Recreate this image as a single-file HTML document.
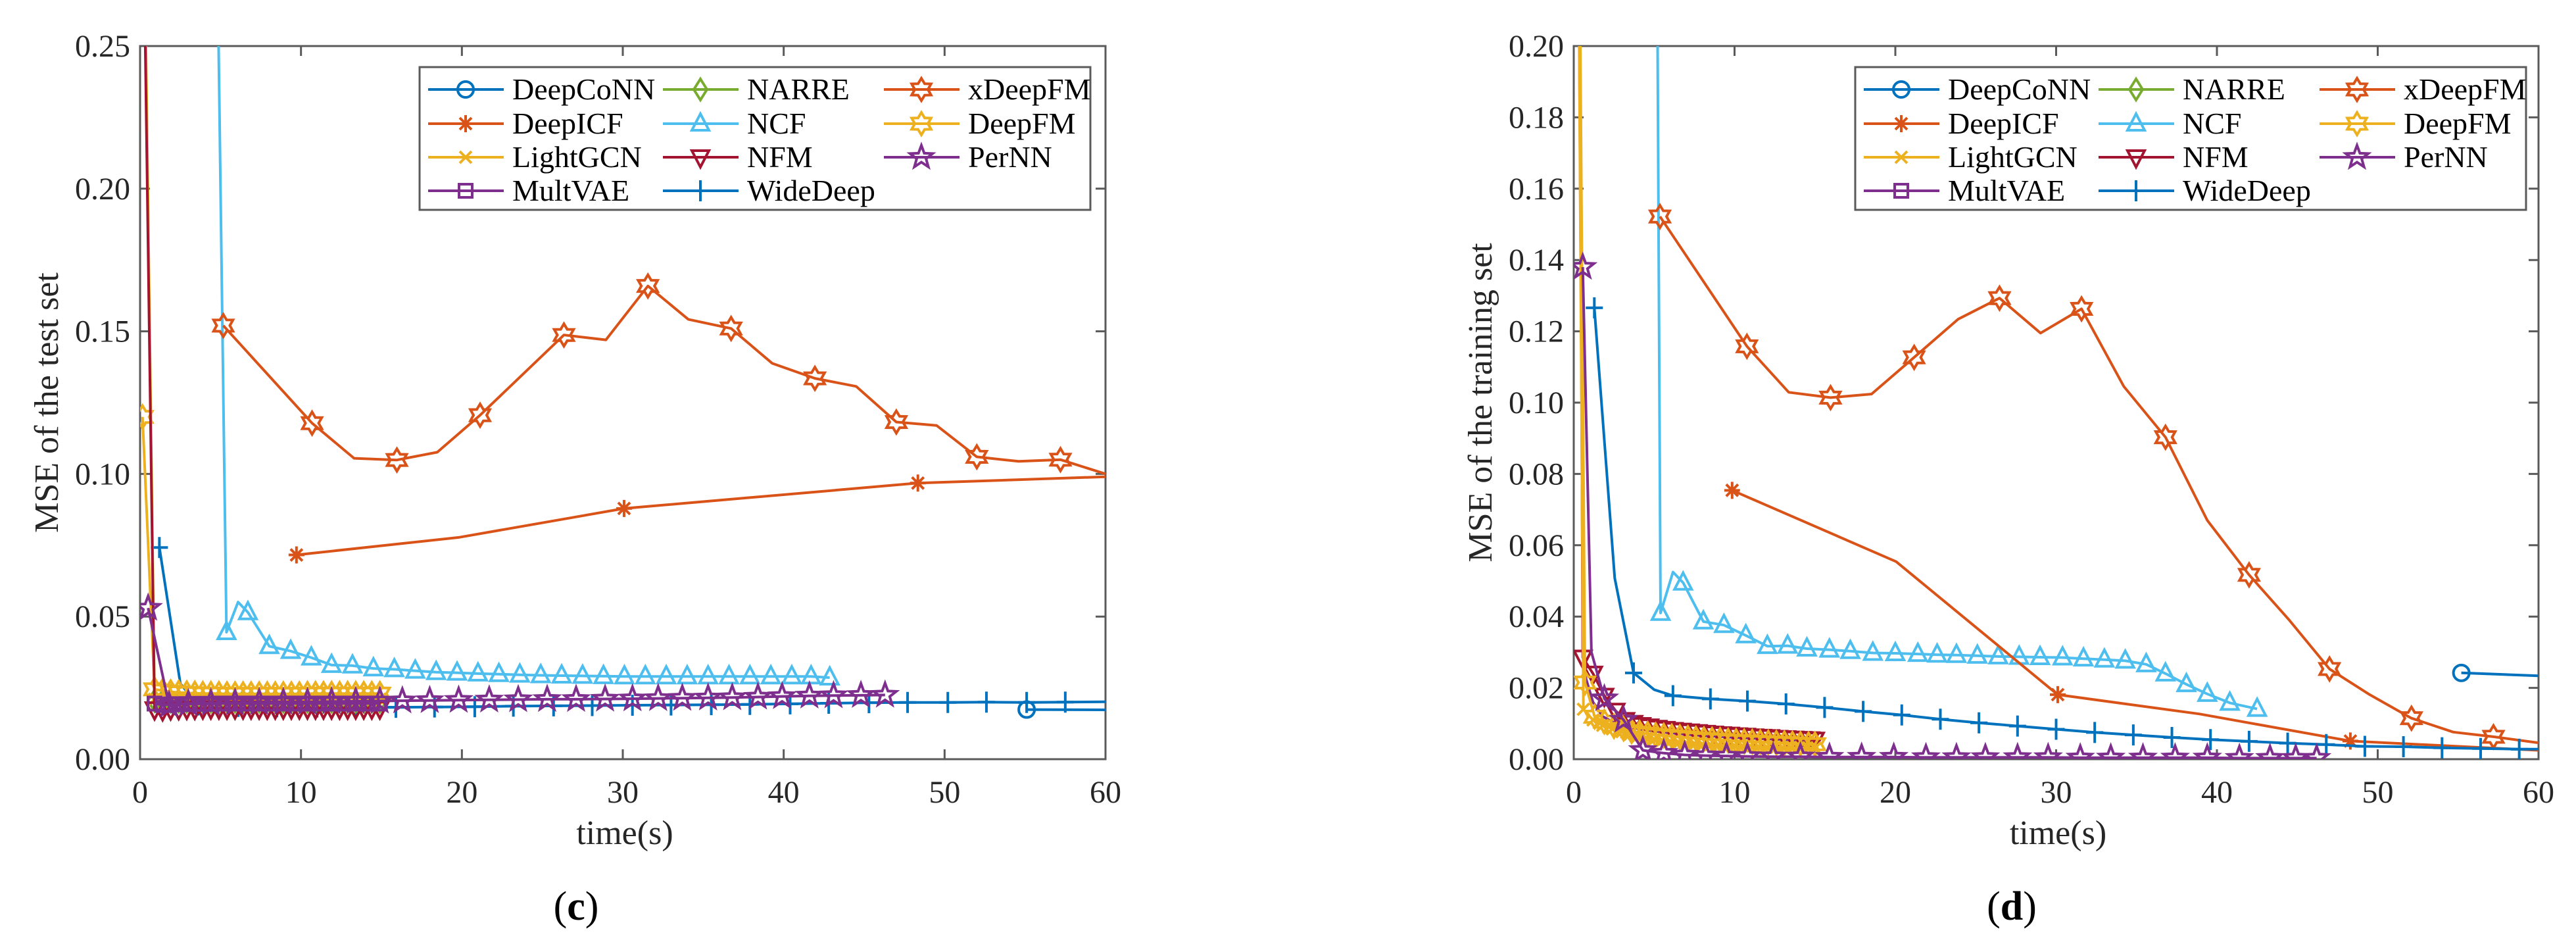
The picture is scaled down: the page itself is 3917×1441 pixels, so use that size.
<!DOCTYPE html>
<html><head><meta charset="utf-8"><style>
html,body{margin:0;padding:0;background:#fff;}
svg{display:block;}
svg text{font-family:"Liberation Serif","Times New Roman",serif;}
</style></head><body>
<svg id="fig" width="3917" height="1441" viewBox="0 0 3917 1441" xmlns="http://www.w3.org/2000/svg" font-family="Liberation Serif, serif">
<defs>
<clipPath id="clipC"><rect x="213" y="70" width="1468" height="1084"/></clipPath>
<clipPath id="clipD"><rect x="2393" y="70" width="1467" height="1084"/></clipPath>
</defs>
<g id="chartC"></g>
<g id="chartD"></g>
</svg>
<script>
// ---------- Chart (c) data: MSE of the test set ----------
const cXTicks = [0,10,20,30,40,50,60];
const cYTicks = [0,0.05,0.10,0.15,0.20,0.25];
const cYTickLabels = ["0.00","0.05","0.10","0.15","0.20","0.25"];
const cXDeepFMT = [5.17,10.69,13.3,15.96,18.47,21.13,26.34,28.95,31.56,34.07,36.73,39.28,41.94,44.5,47.0,49.5,52.0,54.6,57.2,60];
const cXDeepFMY = [0.152,0.1178,0.1055,0.1049,0.1076,0.1206,0.1487,0.147,0.1659,0.1542,0.151,0.1388,0.1335,0.1307,0.1182,0.117,0.106,0.1044,0.105,0.100];
const cXDeepFMMarks = [0,1,3,5,6,8,10,12,14,16,18];
const cDeepICFT = [9.72,19.85,30.08,48.34,60];
const cDeepICFY = [0.0716,0.0778,0.0879,0.0968,0.099];
const cDeepICFMarks = [0,2,3];
const cNCFT = [4.76,5.37,6.09,6.7,8.03,9.36,10.64,11.9,13.2,14.5,15.8,17.1,18.4,19.7,21.0,22.3,23.6,24.9,26.2,27.5,28.8,30.1,31.4,32.7,34.0,35.3,36.6,37.9,39.2,40.5,41.7,42.86];
const cNCFY = [0.30,0.0445,0.0551,0.0515,0.0396,0.0379,0.0356,0.033,0.0328,0.0318,0.0315,0.031,0.0305,0.0303,0.030,0.0298,0.0296,0.0294,0.0293,0.0292,0.0291,0.029,0.029,0.029,0.029,0.029,0.029,0.029,0.029,0.029,0.029,0.0286];
const cNCFMarks = [1,3,4,5,6,7,8,9,10,11,12,13,14,15,16,17,18,19,20,21,22,23,24,25,26,27,28,29,30,31];
const cWideT = [1.2,2.5,3.6,6.1,8.5,11,13.4,15.9,18.3,20.8,23.2,25.7,28.1,30.6,33,35.5,37.9,40.4,42.8,45.3,47.7,50.2,52.6,55.1,57.5,60];
const cWideY = [0.0742,0.0265,0.019,0.0185,0.0184,0.0183,0.0182,0.0182,0.0183,0.0184,0.0186,0.0187,0.0188,0.0189,0.019,0.0191,0.0192,0.0194,0.0196,0.0198,0.0199,0.0199,0.020,0.0199,0.020,0.0201];
const cWideMarks = [0,2,3,4,5,6,7,8,9,10,11,12,13,14,15,16,17,18,19,20,21,22,23,24];
const cDeepCoNNT = [55.1,60];
const cDeepCoNNY = [0.0174,0.0173];
const cPerNNT = [0.5,1.8,3.0,4.4,5.9,7.4,8.9,10.4,11.9,13.4,14.9,16.3,18.0,19.8,21.7,23.5,25.3,27.1,28.9,30.6,32.2,33.7,35.3,36.8,38.4,39.9,41.6,43.1,44.8,46.3];
const cPerNNY = [0.053,0.019,0.0195,0.0197,0.0198,0.0199,0.020,0.020,0.0202,0.0203,0.0204,0.0205,0.0206,0.0207,0.0208,0.0209,0.021,0.021,0.0211,0.0212,0.0213,0.0214,0.0215,0.0216,0.0218,0.022,0.0222,0.0223,0.0224,0.0225];
const cClusterT = [0.9,1.4,1.9,2.4,2.9,3.4,3.9,4.4,4.9,5.4,5.9,6.4,6.9,7.4,7.9,8.4,8.9,9.4,9.9,10.4,10.9,11.4,11.9,12.4,12.9,13.4,13.9,14.4,14.9];
const cDeepFMY = [0.0245,0.024,0.0236,0.0234,0.0232,0.0231,0.023,0.023,0.023,0.0229,0.0229,0.0229,0.0229,0.0229,0.0229,0.0229,0.0229,0.0229,0.0229,0.023,0.023,0.023,0.023,0.023,0.023,0.023,0.023,0.023,0.023];
const cLightGCNY = [0.021,0.021,0.021,0.021,0.021,0.021,0.021,0.021,0.021,0.021,0.021,0.021,0.021,0.021,0.021,0.021,0.021,0.021,0.021,0.021,0.021,0.021,0.021,0.021,0.021,0.021,0.021,0.021,0.021];
const cNFMY = [0.0175,0.0172,0.0175,0.0176,0.0177,0.0177,0.0178,0.0178,0.0178,0.0178,0.0178,0.0178,0.0178,0.0178,0.0178,0.0178,0.0178,0.0178,0.0178,0.0178,0.0178,0.0178,0.0178,0.0178,0.0178,0.0178,0.0178,0.0178,0.0178];
const cMultVAEY = [0.0195,0.019,0.0192,0.0193,0.0193,0.0194,0.0194,0.0194,0.0195,0.0195,0.0195,0.0195,0.0195,0.0195,0.0195,0.0195,0.0195,0.0195,0.0195,0.0195,0.0195,0.0195,0.0195,0.0195,0.0195,0.0195,0.0195,0.0195,0.0195];
const cNARREY = [0.0205,0.0203,0.0203,0.0203,0.0203,0.0203,0.0203,0.0203,0.0203,0.0203,0.0203,0.0203,0.0203,0.0203,0.0203,0.0203,0.0203,0.0203,0.0203,0.0203,0.0203,0.0203,0.0203,0.0203,0.0203,0.0203,0.0203,0.0203,0.0203];

// ---------- Chart (d) data: MSE of the training set ----------
const dXTicks = [0,10,20,30,40,50,60];
const dYTicks = [0,0.02,0.04,0.06,0.08,0.10,0.12,0.14,0.16,0.18,0.20];
const dYTickLabels = ["0.00","0.02","0.04","0.06","0.08","0.10","0.12","0.14","0.16","0.18","0.20"];
const dXDeepFMT = [5.36,10.77,13.37,15.97,18.52,21.17,23.9,26.48,29.03,31.58,34.2,36.8,39.4,42.0,44.5,47.0,49.5,52.1,54.7,57.2,60];
const dXDeepFMY = [0.1522,0.1158,0.1029,0.1014,0.1024,0.1127,0.1234,0.1293,0.1195,0.1263,0.1046,0.0903,0.067,0.0517,0.039,0.0253,0.0181,0.0115,0.0076,0.0063,0.0046];
const dXDeepFMMarks = [0,1,3,5,7,9,11,13,15,17,19];
const dDeepICFT = [9.85,20.05,30.1,38.9,48.3,60];
const dDeepICFY = [0.0754,0.0554,0.0181,0.0127,0.0051,0.0025];
const dDeepICFMarks = [0,2,4];
const dNCFT = [5.1,5.4,6.17,6.8,8.06,9.34,10.7,12.04,13.3,14.5,15.9,17.2,18.6,20.0,21.4,22.6,23.8,25.1,26.4,27.7,29.0,30.4,31.7,33.0,34.3,35.6,36.8,38.1,39.4,40.8,42.5];
const dNCFY = [0.30,0.041,0.0525,0.0495,0.0386,0.0376,0.0347,0.0317,0.0318,0.031,0.0307,0.0303,0.0298,0.0297,0.0295,0.0293,0.0292,0.029,0.0288,0.0287,0.0286,0.0285,0.0282,0.0279,0.0276,0.0266,0.024,0.021,0.0183,0.0158,0.0141];
const dNCFMarks = [1,3,4,5,6,7,8,9,10,11,12,13,14,15,16,17,18,19,20,21,22,23,24,25,26,27,28,29,30];
const dWideT = [1.28,2.55,3.72,5.0,6.17,8.5,10.8,13.2,15.6,18,20.4,22.8,25.2,27.6,30,32.4,34.8,37.2,39.6,42,44.4,46.8,49.2,51.6,54,56.4,58.8,60];
const dWideY = [0.1266,0.0508,0.0242,0.0195,0.0178,0.0169,0.0163,0.0155,0.0145,0.0134,0.0124,0.0112,0.0102,0.0093,0.0084,0.0075,0.0068,0.0061,0.0055,0.005,0.0045,0.0041,0.0036,0.0035,0.0032,0.003,0.0028,0.0028];
const dWideMarks = [0,2,4,5,6,7,8,9,10,11,12,13,14,15,16,17,18,19,20,21,22,23,24,25,26];
const dDeepCoNNT = [55.2,60];
const dDeepCoNNY = [0.0242,0.0234];
const dPerNNT = [0.56,1.1,1.9,3.1,4.3,5.6,6.9,8.2,9.5,10.8,12.4,14.1,15.9,17.9,19.9,21.9,23.8,25.6,27.6,29.5,31.5,33.4,35.4,37.4,39.4,41.4,43.3,44.9,46.2];
const dPerNNY = [0.138,0.03,0.017,0.011,0.0025,0.0017,0.0012,0.001,0.0009,0.0008,0.0007,0.0007,0.0006,0.0006,0.0006,0.0005,0.0005,0.0005,0.0005,0.0005,0.0004,0.0004,0.0004,0.0004,0.0004,0.0003,0.0003,0.0003,0.0003];
const dPerNNMarks = [0,2,3,4,5,6,7,8,9,10,11,12,13,14,15,16,17,18,19,20,21,22,23,24,25,26,27,28];
const dNFMT = [0.3,0.56,1.2,1.9,2.6,3.2,3.7,4.2,4.7,5.2,5.7,6.2,6.7,7.2,7.7,8.2,8.7,9.2,9.7,10.2,10.7,11.2,11.7,12.2,12.7,13.2,13.7,14.2,14.7,15.0];
const dNFMY = [0.30,0.0285,0.024,0.0178,0.0136,0.011,0.0102,0.0096,0.0092,0.0088,0.0085,0.0082,0.008,0.0078,0.0076,0.0074,0.0072,0.007,0.0069,0.0067,0.0066,0.0064,0.0063,0.0062,0.006,0.0059,0.0058,0.0057,0.0056,0.0055];
const dDeepFMT = [0.25,0.7,1.3,1.9,2.5,3.1,3.6,4.1,4.6,5.1,5.6,6.1,6.6,7.1,7.6,8.1,8.6,9.1,9.6,10.1,10.6,11.1,11.6,12.1,12.6,13.1,13.6,14.1,14.6,15.0];
const dDeepFMY = [0.30,0.0215,0.0119,0.0105,0.0092,0.0085,0.0078,0.0074,0.0071,0.0068,0.0066,0.0064,0.0062,0.006,0.0058,0.0056,0.0055,0.0054,0.0052,0.0051,0.005,0.0049,0.0048,0.0047,0.0046,0.0045,0.0044,0.0043,0.0042,0.0042];
const dLightGCNT = [0.2,0.6,1.2,1.8,2.4,3.0,3.5,4.0,4.5,5.0,5.5,6.0,6.5,7.0,7.5,8.0,8.5,9.0,9.5,10.0,10.5,11.0,11.5,12.0,12.5,13.0,13.5,14.0,14.5,15.0];
const dLightGCNY = [0.30,0.014,0.011,0.0095,0.0085,0.0077,0.007,0.0065,0.006,0.0056,0.0053,0.005,0.0048,0.0046,0.0044,0.0042,0.0041,0.004,0.0039,0.0038,0.0037,0.0036,0.0035,0.0034,0.0034,0.0033,0.0033,0.0032,0.0032,0.0031];
const dMultVAEY = [0.30,0.025,0.016,0.012,0.0105,0.0096,0.009,0.0085,0.0082,0.0079,0.0076,0.0074,0.0072,0.007,0.0068,0.0066,0.0065,0.0064,0.0062,0.0061,0.006,0.0059,0.0058,0.0057,0.0056,0.0055,0.0054,0.0053,0.0052,0.0052];

const COL = {blue:"#0072BD", orange:"#D95319", yellow:"#EDB120", purple:"#7E2F8E", green:"#77AC30", cyan:"#4DBEEE", red:"#A2142F"};
const NS = "http://www.w3.org/2000/svg";
const FONT = '"Liberation Serif", "Times New Roman", serif';

function el(tag, attrs, parent){
  const e = document.createElementNS(NS, tag);
  for (const k in attrs) e.setAttribute(k, attrs[k]);
  if (tag === "text") { e.setAttribute("font-family", FONT); e.style.fontFamily = FONT; }
  if (parent) parent.appendChild(e);
  return e;
}

function starPts(x, y, n, ro, ri){
  const p = [];
  for (let i = 0; i < 2*n; i++){
    const r = i % 2 ? ri : ro;
    const a = -Math.PI/2 + i*Math.PI/n;
    p.push((x + r*Math.cos(a)).toFixed(1) + "," + (y + r*Math.sin(a)).toFixed(1));
  }
  return p.join(" ");
}

function marker(g, type, x, y, c){
  const base = {fill:"none", stroke:c, "stroke-width":4};
  let m;
  if (type === "o") m = el("circle", Object.assign({cx:x, cy:y, r:12}, base), g);
  else if (type === "hex") m = el("polygon", Object.assign({points:starPts(x,y,6,17,10)}, base), g);
  else if (type === "p") m = el("polygon", Object.assign({points:starPts(x,y,5,18,7.5)}, base), g);
  else if (type === "^") m = el("polygon", Object.assign({points:`${x},${y-15} ${x-13},${y+10} ${x+13},${y+10}`}, base), g);
  else if (type === "v") m = el("polygon", Object.assign({points:`${x},${y+15} ${x-13},${y-10} ${x+13},${y-10}`}, base), g);
  else if (type === "s") m = el("rect", Object.assign({x:x-10, y:y-10, width:20, height:20}, base), g);
  else if (type === "d") m = el("polygon", Object.assign({points:`${x},${y-16} ${x-10},${y} ${x},${y+16} ${x+10},${y}`}, base), g);
  else if (type === "+") m = el("path", Object.assign({d:`M${x-13} ${y}H${x+13}M${x} ${y-16}V${y+16}`}, base), g);
  else if (type === "x") m = el("path", Object.assign({d:`M${x-9} ${y-9}L${x+9} ${y+9}M${x-9} ${y+9}L${x+9} ${y-9}`}, base), g);
  else if (type === "*") m = el("path", Object.assign({d:`M${x-12} ${y}H${x+12}M${x} ${y-13}V${y+13}M${x-9} ${y-9}L${x+9} ${y+9}M${x-9} ${y+9}L${x+9} ${y-9}`}, base), g);
  
  
  return m;
}

function drawChart(root, cfg){
  const X0 = cfg.x0, X1 = cfg.x1, Y0 = 70, Y1 = 1154;
  const sx = v => X0 + (v - 0)/(60 - 0)*(X1 - X0);
  const sy = v => Y1 - (v - 0)/(cfg.ymax - 0)*(Y1 - Y0);

  const box = el("rect", {x:X0, y:Y0, width:X1-X0, height:Y1-Y0, fill:"none", stroke:"#5a5a5a", "stroke-width":3}, root);
  
  

  cfg.xt.forEach(t => {
    const x = sx(t);
    el("path", {d:`M${x} ${Y1}V${Y1-15}M${x} ${Y0}V${Y0+15}`, stroke:"#5a5a5a", "stroke-width":3}, root);
    const lab = el("text", {x:x, y:Y1+66, "font-size":48, fill:"#262626", "text-anchor":"middle"}, root);
    lab.textContent = String(t);
    
    
  });
  cfg.yt.forEach((t, i) => {
    const y = sy(t);
    el("path", {d:`M${X0} ${y}H${X0+15}M${X1} ${y}H${X1-15}`, stroke:"#5a5a5a", "stroke-width":3}, root);
    const lab = el("text", {x:X0-15, y:y+16, "font-size":48, fill:"#262626", "text-anchor":"end"}, root);
    lab.textContent = cfg.ytl[i];
    
    
  });

  const xl = el("text", {x:(X0+X1)/2 + 3, y:1283, "font-size":52, fill:"#262626", "text-anchor":"middle"}, root);
  xl.textContent = "time(s)";
  
  
  const yl = el("text", {x:0, y:0, "font-size":52, fill:"#262626", "text-anchor":"middle", transform:`translate(${cfg.ylx},612) rotate(-90)`}, root);
  yl.textContent = cfg.ylabel;
  
  
  const cap = el("text", {x:cfg.capx, y:1398, "font-size":62, fill:"#000", "text-anchor":"middle"}, root);
  cap.appendChild(document.createTextNode("("));
  const ts = el("tspan", {"font-weight":"bold"}, cap);
  ts.textContent = cfg.cap;
  cap.appendChild(document.createTextNode(")"));
  
  

  const plot = el("g", {"clip-path":`url(#${cfg.clip})`}, root);
  
  
  cfg.series.forEach(s => {
    const g = el("g", {}, plot);
    
    
    const d = s.t.map((t, i) => (i ? "L" : "M") + sx(t).toFixed(1) + " " + sy(s.y[i]).toFixed(1)).join("");
    const ln = el("path", {d:d, fill:"none", stroke:s.c, "stroke-width":4, "stroke-linejoin":"round"}, g);
    
    
    const idx = s.marks || s.t.map((_, i) => i);
    idx.forEach(i => marker(g, s.m, sx(s.t[i]), sy(s.y[i]), s.c));
  });

  const lg = el("g", {}, root);
  
  
  const lx = cfg.legx, ly = 102;
  const lb = el("rect", {x:lx, y:ly, width:1020, height:217, fill:"#fff", stroke:"#5a5a5a", "stroke-width":3}, lg);
  
  
  const colOff = [13, 370, 706];
  const rows = [136, 188, 239, 290];
  cfg.legend.forEach((e, k) => {
    const col = Math.floor(k / 4), row = k % 4;
    const ex = lx + colOff[col], ey = rows[row];
    const eg = el("g", {}, lg);
    
    
    el("path", {d:`M${ex} ${ey}H${ex+115}`, stroke:e.c, "stroke-width":4}, eg);
    marker(eg, e.m, ex+57, ey, e.c);
    const tx = el("text", {x:ex+128, y:ey+15, "font-size":46, fill:"#000"}, eg);
    tx.textContent = e.name;
  });
}

const legendEntries = [
  {name:"DeepCoNN", m:"o", c:COL.blue},{name:"DeepICF", m:"*", c:COL.orange},{name:"LightGCN", m:"x", c:COL.yellow},{name:"MultVAE", m:"s", c:COL.purple},
  {name:"NARRE", m:"d", c:COL.green},{name:"NCF", m:"^", c:COL.cyan},{name:"NFM", m:"v", c:COL.red},{name:"WideDeep", m:"+", c:COL.blue},
  {name:"xDeepFM", m:"hex", c:COL.orange},{name:"DeepFM", m:"hex", c:COL.yellow},{name:"PerNN", m:"p", c:COL.purple}
];

drawChart(document.getElementById("chartC"), {
  x0:213, x1:1681, ymax:0.25, xt:cXTicks, yt:cYTicks, ytl:cYTickLabels, clip:"clipC",
  ylabel:"MSE of the test set", ylx:88, capx:876, cap:"c", legx:638, legend:legendEntries,
  series:[
    {name:"NCF", t:cNCFT, y:cNCFY, c:COL.cyan, m:"^", marks:cNCFMarks},
    {name:"xDeepFM", t:cXDeepFMT, y:cXDeepFMY, c:COL.orange, m:"hex", marks:cXDeepFMMarks},
    {name:"DeepICF", t:cDeepICFT, y:cDeepICFY, c:COL.orange, m:"*", marks:cDeepICFMarks},
    {name:"WideDeep", t:cWideT, y:cWideY, c:COL.blue, m:"+", marks:cWideMarks},
    {name:"DeepCoNN", t:cDeepCoNNT, y:cDeepCoNNY, c:COL.blue, m:"o", marks:[0]},
    {name:"NARRE", t:cClusterT, y:cNARREY, c:COL.green, m:"d"},
    {name:"LightGCN", t:[0.25].concat(cClusterT), y:[0.30].concat(cLightGCNY), c:COL.yellow, m:"x"},
    {name:"DeepFM", t:[0.15].concat(cClusterT), y:[0.12].concat(cDeepFMY), c:COL.yellow, m:"hex"},
    {name:"NFM", t:[0.2].concat(cClusterT), y:[0.30].concat(cNFMY), c:COL.red, m:"v", marks:cClusterT.map((_, i) => i + 1)},
    {name:"MultVAE", t:cClusterT, y:cMultVAEY, c:COL.purple, m:"s"},
    {name:"PerNN", t:cPerNNT, y:cPerNNY, c:COL.purple, m:"p"}
  ]
});

drawChart(document.getElementById("chartD"), {
  x0:2393, x1:3860, ymax:0.20, xt:dXTicks, yt:dYTicks, ytl:dYTickLabels, clip:"clipD",
  ylabel:"MSE of the training set", ylx:2268, capx:3059, cap:"d", legx:2821, legend:legendEntries,
  series:[
    {name:"NCF", t:dNCFT, y:dNCFY, c:COL.cyan, m:"^", marks:dNCFMarks},
    {name:"xDeepFM", t:dXDeepFMT, y:dXDeepFMY, c:COL.orange, m:"hex", marks:dXDeepFMMarks},
    {name:"DeepICF", t:dDeepICFT, y:dDeepICFY, c:COL.orange, m:"*", marks:dDeepICFMarks},
    {name:"WideDeep", t:dWideT, y:dWideY, c:COL.blue, m:"+", marks:dWideMarks},
    {name:"DeepCoNN", t:dDeepCoNNT, y:dDeepCoNNY, c:COL.blue, m:"o", marks:[0]},
    {name:"MultVAE", t:dLightGCNT, y:dMultVAEY, c:COL.purple, m:"s", marks:[]},
    {name:"NFM", t:dNFMT, y:dNFMY, c:COL.red, m:"v", marks:dNFMT.map((_, i) => i).slice(1)},
    {name:"LightGCN", t:dLightGCNT, y:dLightGCNY, c:COL.yellow, m:"x", marks:dLightGCNT.map((_, i) => i).slice(1)},
    {name:"DeepFM", t:dDeepFMT, y:dDeepFMY, c:COL.yellow, m:"hex", marks:dDeepFMT.map((_, i) => i).slice(1)},
    {name:"PerNN", t:dPerNNT, y:dPerNNY, c:COL.purple, m:"p", marks:dPerNNMarks}
  ]
});
</script>
</body></html>
